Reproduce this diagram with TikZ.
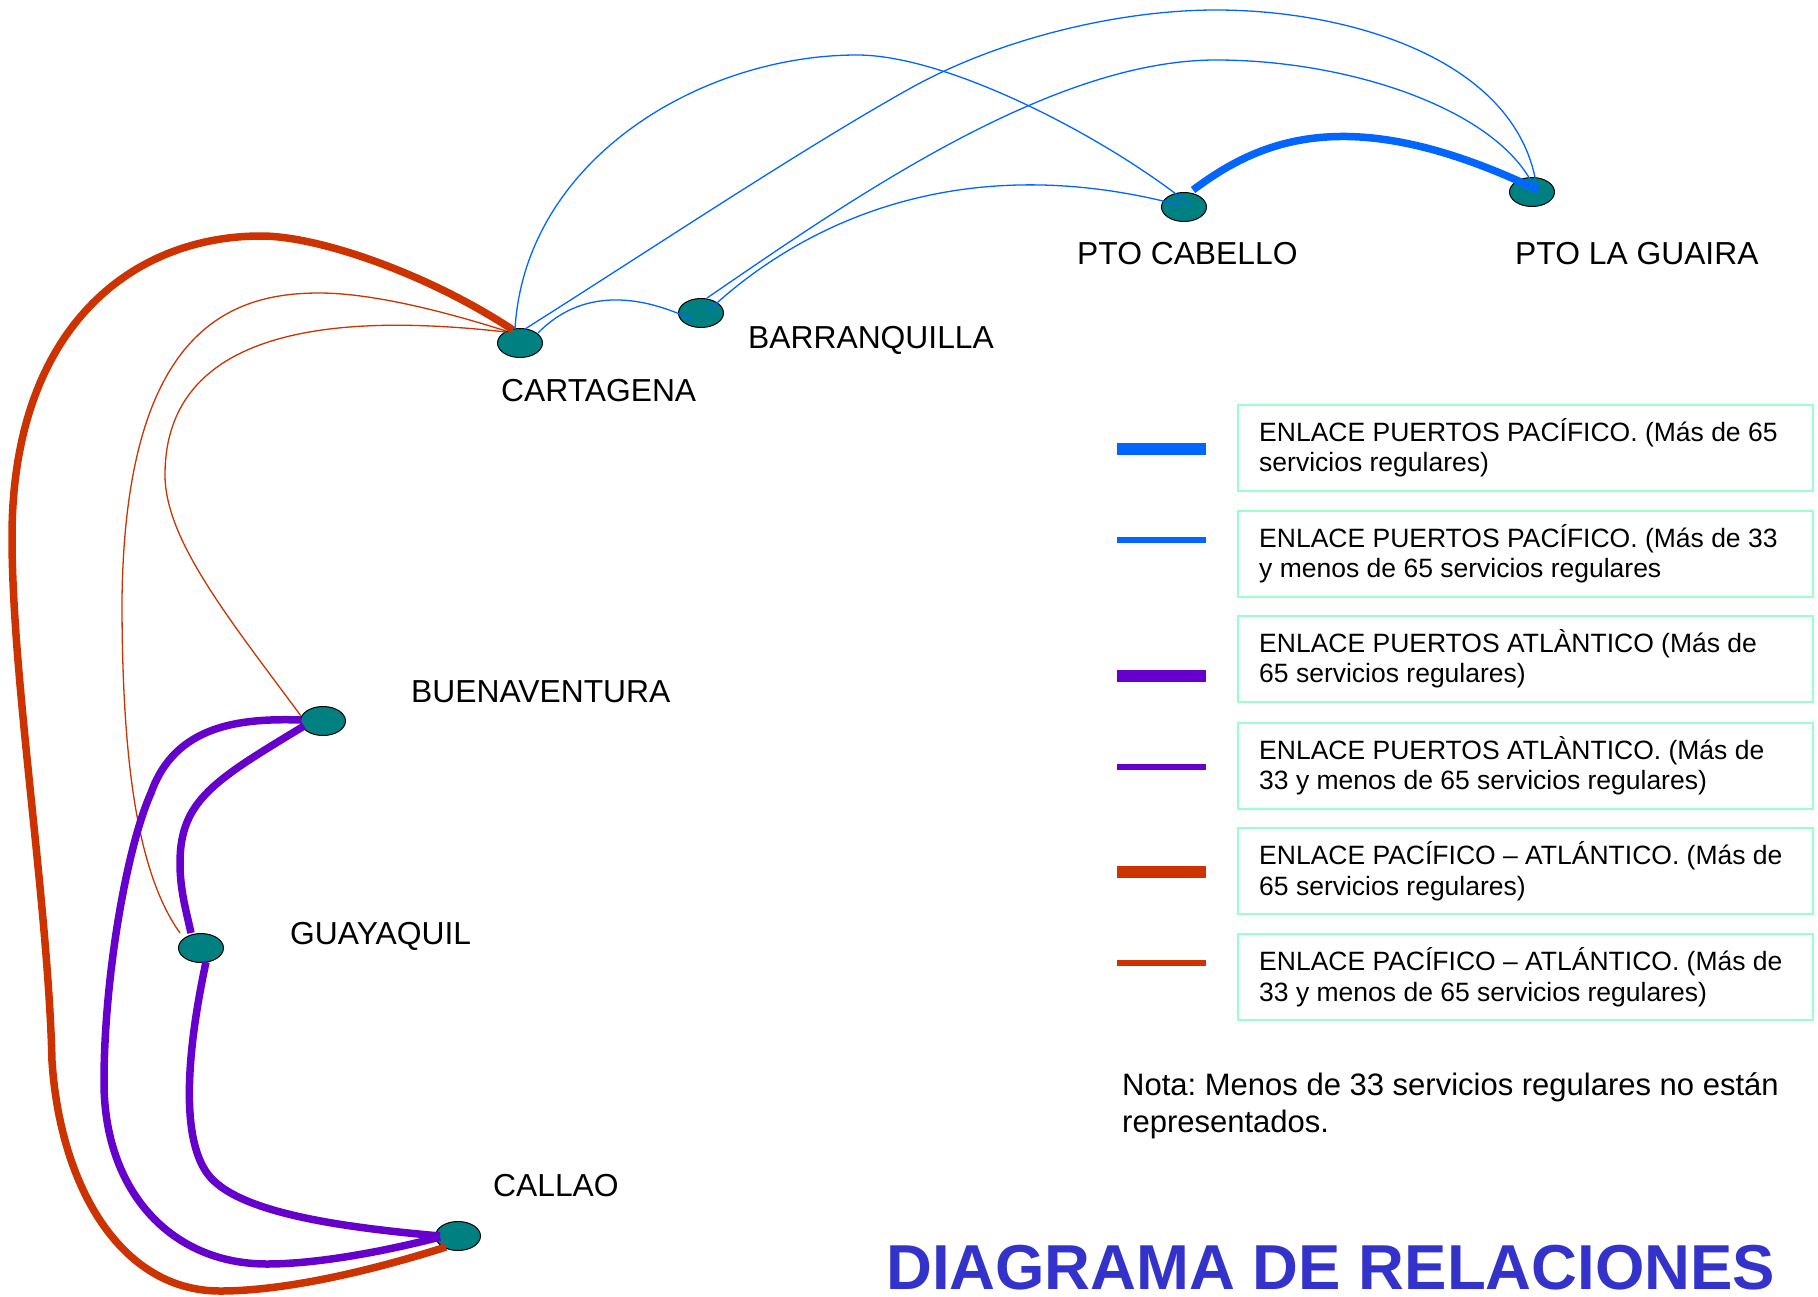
\documentclass[tikz,border=0pt]{standalone}
\usepackage{fontspec}
\setmainfont{Liberation Sans}
\usetikzlibrary{shapes.geometric,calc}
\definecolor{portteal}{HTML}{008080}
\definecolor{pblue}{HTML}{0066FF}
\definecolor{ppurple}{HTML}{6600CC}
\definecolor{porange}{HTML}{CC3300}
\definecolor{mint}{HTML}{99FFCC}
\definecolor{titleblue}{HTML}{3333CC}
\frenchspacing
\begin{document}
\begin{tikzpicture}[x=1pt,y=-1pt,
  port/.style={ellipse, draw=black, line width=1pt, fill=portteal, minimum width=45, minimum height=29, inner sep=0},
  lbl/.style={anchor=base west, inner sep=0, font=\fontsize{31.8}{36}\selectfont},
  legtxt/.style={anchor=base west, inner sep=0, font=\fontsize{26.5}{30}\selectfont},
  notetxt/.style={anchor=base west, inner sep=0, font=\fontsize{31}{36}\selectfont},
  legbox/.style={draw=mint, line width=1.5pt, anchor=north west, minimum width=575, minimum height=86, inner sep=0},
  bthin/.style={pblue, line width=1.3pt},
  bthick/.style={pblue, line width=7.5pt},
  pthick/.style={ppurple, line width=7.5pt},
  othin/.style={porange, line width=1.3pt},
  othick/.style={porange, line width=7.5pt},
  legthick/.style={line width=12pt},
  legthin/.style={line width=6pt}]
\useasboundingbox (0,0) rectangle (1818,1296);
\fill[white] (0,0) rectangle (1818,1296);

% ports
\node[port] (cart) at (520,343) {};
\node[port] (barr) at (701,313) {};
\node[port] (cab) at (1184,207) {};
\node[port] (lag) at (1532,192) {};
\node[port] (bue) at (323,721) {};
\node[port] (guay) at (201,948) {};
\node[port] (callao) at (458,1236) {};

% labels
\node[lbl] (tcart) at (501,401) {CARTAGENA};
\node[lbl] (tbarr) at (748,348) {BARRANQUILLA};
\node[lbl] (tcab) at (1077,264) {PTO CABELLO};
\node[lbl] (tlag) at (1515,264) {PTO LA GUAIRA};
\node[lbl] (tbue) at (411,702) {BUENAVENTURA};
\node[lbl] (tguay) at (290,944) {GUAYAQUIL};
\node[lbl] (tcallao) at (493,1196) {CALLAO};

% orange thick: Cartagena - Callao
\draw[othick] ($(cart)+(-7,-13)$) .. controls (430,275) and (320,236) .. (261,236)
  .. controls (130,236) and (12,330) .. (12,537)
  .. controls (12,680) and (48,900) .. (52,1061)
  .. controls (60,1185) and (120,1291) .. (220,1291)
  .. controls (290,1291) and (380,1268) .. ($(callao)+(-12,11)$);

% orange thin: Cartagena - Guayaquil
\draw[othin] ($(cart)+(-14,-12)$) .. controls (440,310) and (370,293) .. (319,293)
  .. controls (230,293) and (125,330) .. (122,600)
  .. controls (122,750) and (135,870) .. ($(guay)+(-21,-15)$);

% orange thin: Cartagena - Buenaventura
\draw[othin] ($(cart)+(-14,-11)$) .. controls (380,318) and (165,310) .. (165,475)
  .. controls (165,540) and (230,620) .. ($(bue)+(-22,-5)$);

% purple thick: Buenaventura - Guayaquil
\draw[pthick] ($(bue)+(-19,5)$) .. controls (215,780) and (180,800) .. (180,863)
  .. controls (180,890) and (186,910) .. ($(guay)+(-10,-15)$);

% purple thick: Buenaventura - Callao
\draw[pthick] ($(bue)+(-22,-1)$) .. controls (240,718) and (175,725) .. (151,793)
  .. controls (126,849) and (104,980) .. (104,1082)
  .. controls (104,1190) and (170,1264) .. (267,1264)
  .. controls (320,1264) and (390,1250) .. ($(callao)+(-18,1)$);

% purple thick: Guayaquil - Callao
\draw[pthick] ($(guay)+(5,14)$) .. controls (185,1060) and (180,1150) .. (214,1181)
  .. controls (250,1215) and (350,1228) .. ($(callao)+(-18,0)$);

% blue thin: Cartagena - Pto Cabello
\draw[bthin] ($(cart)+(-5,-14)$) .. controls (525,160) and (700,55) .. (857,55)
  .. controls (950,55) and (1110,140) .. ($(cab)+(6,-2)$);

% blue thin: Cartagena - Pto La Guaira
\draw[bthin] ($(cart)+(5,-14)$) .. controls (650,250) and (800,150) .. (909,89)
  .. controls (1000,38) and (1120,10) .. (1216,10)
  .. controls (1350,10) and (1520,60) .. ($(lag)+(5,-3)$);

% blue thin: Barranquilla - Pto La Guaira
\draw[bthin] ($(barr)+(6,-15)$) .. controls (850,200) and (1050,60) .. (1216,60)
  .. controls (1350,60) and (1500,110) .. ($(lag)+(3,-3)$);

% blue thin: Barranquilla - Pto Cabello
\draw[bthin] ($(barr)+(6,-1)$) .. controls (810,215) and (970,150) .. ($(cab)+(-5,-2)$);

% blue thin: Cartagena - Barranquilla
\draw[bthin] ($(cart)+(18,-10)$) .. controls (570,300) and (620,285) .. ($(barr)+(-8,7)$);

% blue thick: Pto Cabello - Pto La Guaira
\draw[bthick] ($(cab)+(9,-17)$) .. controls (1260,140) and (1350,100) .. ($(lag)+(6,-2)$);

% legend
\node[legbox] (box1) at (1237,404) {};
\node[legbox] (box2) at (1237,510) {};
\node[legbox] (box3) at (1237,615) {};
\node[legbox] (box4) at (1237,722) {};
\node[legbox] (box5) at (1237,827) {};
\node[legbox] (box6) at (1237,933) {};

\draw[legthick, pblue] (1117,449) -- (1206,449);
\draw[legthin, pblue] (1117,540) -- (1206,540);
\draw[legthick, ppurple] (1117,676) -- (1206,676);
\draw[legthin, ppurple] (1117,767) -- (1206,767);
\draw[legthick, porange] (1117,872) -- (1206,872);
\draw[legthin, porange] (1117,963) -- (1206,963);

\node[legtxt] (l1a) at (1259,441) {ENLACE PUERTOS PACÍFICO. (Más de 65};
\node[legtxt] (l1b) at (1259,471) {servicios regulares)};
\node[legtxt] (l2a) at (1259,547) {ENLACE PUERTOS PACÍFICO. (Más de 33};
\node[legtxt] (l2b) at (1259,577) {y menos de 65 servicios regulares};
\node[legtxt] (l3a) at (1259,652) {ENLACE PUERTOS ATLÀNTICO (Más de};
\node[legtxt] (l3b) at (1259,682) {65 servicios regulares)};
\node[legtxt] (l4a) at (1259,759) {ENLACE PUERTOS ATLÀNTICO. (Más de};
\node[legtxt] (l4b) at (1259,789) {33 y menos de 65 servicios regulares)};
\node[legtxt] (l5a) at (1259,864) {ENLACE PACÍFICO – ATLÁNTICO. (Más de};
\node[legtxt] (l5b) at (1259,895) {65 servicios regulares)};
\node[legtxt] (l6a) at (1259,970) {ENLACE PACÍFICO – ATLÁNTICO. (Más de};
\node[legtxt] (l6b) at (1259,1001) {33 y menos de 65 servicios regulares)};

\node[notetxt] (nota1) at (1122,1095) {Nota: Menos de 33 servicios regulares no están};
\node[notetxt] (nota2) at (1122,1132) {representados.};

\node[anchor=base west, inner sep=0, text=titleblue, font=\fontsize{63.5}{70}\selectfont\bfseries] (title) at (886,1289) {DIAGRAMA DE RELACIONES};
\end{tikzpicture}
\end{document}
